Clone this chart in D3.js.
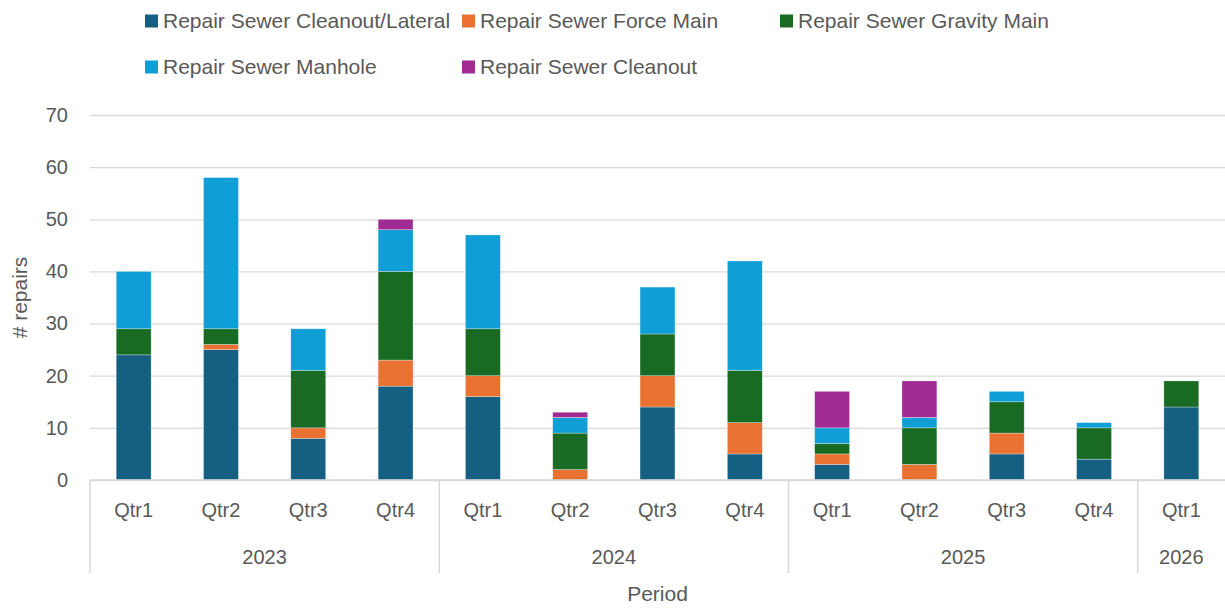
<!DOCTYPE html>
<html lang="en">
<head>
    <meta charset="UTF-8">
    <title>Sewer repairs by quarter</title>
    <style>
        body { margin: 0; background: #fff; }
        text { font-family: "Liberation Sans", Arial, sans-serif; fill: #595959; }
    </style>
</head>
<body>
    <div class="graph-container"></div>

    <script type="text/javascript" src="https://d3js.org/d3.v7.min.js"></script>
    <script type="text/javascript">
        // Chart data
        var quarters = ["Qtr1", "Qtr2", "Qtr3", "Qtr4", "Qtr1", "Qtr2", "Qtr3", "Qtr4", "Qtr1", "Qtr2", "Qtr3", "Qtr4", "Qtr1"];
        var years = ["2023", "2023", "2023", "2023", "2024", "2024", "2024", "2024", "2025", "2025", "2025", "2025", "2026"];

        var seriesNames = ["Repair Sewer Cleanout/Lateral", "Repair Sewer Force Main", "Repair Sewer Gravity Main", "Repair Sewer Manhole", "Repair Sewer Cleanout"];
        var lateral = [24, 25, 8, 18, 16, 0, 14, 5, 3, 0, 5, 4, 14];
        var forceMain = [0, 1, 2, 5, 4, 2, 6, 6, 2, 3, 4, 0, 0];
        var gravityMain = [5, 3, 11, 17, 9, 7, 8, 10, 2, 7, 6, 6, 5];
        var manhole = [11, 29, 8, 8, 18, 3, 9, 21, 3, 2, 2, 1, 0];
        var cleanout = [0, 0, 0, 2, 0, 1, 0, 0, 7, 7, 0, 0, 0];

        var yTicks = [0, 10, 20, 30, 40, 50, 60, 70];
        var colors = ["#156082", "#E97132", "#196B24", "#0F9ED5", "#A02B93"];

        var canvasWidth = 1225;
        var canvasHeight = 608;
        var margin = { top: 115, right: 0, bottom: 128, left: 90 };
        var graphWidth = canvasWidth - margin.left - margin.right;
        var graphHeight = canvasHeight - margin.top - margin.bottom;

        var seriesData = [lateral, forceMain, gravityMain, manhole, cleanout];
        var rows = quarters.map(function(q, i) {
            var row = { idx: i };
            seriesNames.forEach(function(name, s) { row[name] = seriesData[s][i]; });
            return row;
        });
        var stacked = d3.stack().keys(seriesNames)(rows);

        var x = d3.scaleBand()
            .domain(d3.range(quarters.length))
            .range([0, graphWidth])
            .paddingInner(0.6)
            .paddingOuter(0.3);

        var y = d3.scaleLinear()
            .domain([0, 70])
            .range([graphHeight, 0]);

        var color = d3.scaleOrdinal().domain(seriesNames).range(colors);

        var svg = d3.select(".graph-container")
            .append("svg")
            .attr("width", canvasWidth)
            .attr("height", canvasHeight);

        var g = svg.append("g")
            .attr("transform", "translate(" + margin.left + "," + margin.top + ")");

        // gridlines
        g.append("g")
            .attr("class", "grid")
            .call(d3.axisLeft(y).tickValues(yTicks).tickSize(-graphWidth).tickFormat(""))
            .call(function(sel) {
                sel.select(".domain").remove();
                sel.selectAll("line").attr("stroke", "#d9d9d9").attr("stroke-width", 1.3);
            });

        // y tick labels
        g.append("g")
            .call(d3.axisLeft(y).tickValues(yTicks).tickSize(0).tickPadding(22))
            .call(function(sel) {
                sel.select(".domain").remove();
                sel.selectAll("text").style("font-size", "20px").attr("fill", "#595959");
            });

        // bars
        g.append("g").selectAll("g")
            .data(stacked)
            .enter().append("g")
                .attr("fill", function(d) { return color(d.key); })
                .selectAll("rect")
                .data(function(d) { return d; })
                .enter().append("rect")
                    .attr("x", function(d) { return x(d.data.idx); })
                    .attr("y", function(d) { return y(d[1]); })
                    .attr("width", x.bandwidth())
                    .attr("height", function(d) { return y(d[0]) - y(d[1]); })
                    .attr("stroke", "rgba(255,255,255,0.5)")
                    .attr("stroke-width", 0.6);

        // category axis: quarter labels
        g.append("g")
            .attr("transform", "translate(0," + graphHeight + ")")
            .call(d3.axisBottom(x).tickSize(0).tickPadding(23).tickFormat(function(i) { return quarters[i]; }))
            .call(function(sel) {
                sel.select(".domain").remove();
                sel.selectAll("text").style("font-size", "20px").attr("fill", "#595959");
            });

        // year groups
        var yearNames = Array.from(new Set(years));
        var step = x.step();
        var groups = yearNames.map(function(yr) {
            var idx = d3.range(years.length).filter(function(i) { return years[i] === yr; });
            var x0 = x(idx[0]) - x.paddingOuter() * step;
            var x1 = x(idx[idx.length - 1]) + x.bandwidth() + x.paddingOuter() * step;
            return { year: yr, x0: x0, x1: Math.min(x1, graphWidth) };
        });

        var catAxis = g.append("g").attr("transform", "translate(0," + graphHeight + ")");
        catAxis.append("line")
            .attr("x1", 0).attr("x2", graphWidth)
            .attr("y1", 0).attr("y2", 0)
            .attr("stroke", "#d9d9d9").attr("stroke-width", 1.5);
        catAxis.selectAll(".sep")
            .data(groups)
            .enter().append("line")
                .attr("x1", function(d) { return d.x0; })
                .attr("x2", function(d) { return d.x0; })
                .attr("y1", 0).attr("y2", 93)
                .attr("stroke", "#d9d9d9").attr("stroke-width", 1.5);
        catAxis.selectAll(".year")
            .data(groups)
            .enter().append("text")
                .attr("x", function(d) { return (d.x0 + d.x1) / 2; })
                .attr("y", 84)
                .attr("text-anchor", "middle")
                .style("font-size", "20px")
                .text(function(d) { return d.year; });

        // axis titles
        svg.append("text")
            .attr("x", margin.left + graphWidth / 2)
            .attr("y", 601)
            .attr("text-anchor", "middle")
            .style("font-size", "21px")
            .text("Period");

        svg.append("text")
            .attr("transform", "translate(27," + (margin.top + graphHeight / 2) + ") rotate(-90)")
            .attr("text-anchor", "middle")
            .style("font-size", "21px")
            .text("# repairs");

        // legend
        var legendPos = [[145, 21], [462, 21], [780, 21], [145, 67], [462, 67]];
        var legend = svg.append("g").selectAll("g")
            .data(seriesNames)
            .enter().append("g")
                .attr("transform", function(d, i) { return "translate(" + legendPos[i][0] + "," + legendPos[i][1] + ")"; });
        legend.append("rect")
            .attr("x", 0).attr("y", -6.5)
            .attr("width", 13).attr("height", 13)
            .attr("fill", function(d) { return color(d); });
        legend.append("text")
            .attr("x", 18)
            .attr("dy", "0.35em")
            .style("font-size", "21px")
            .text(function(d) { return d; });
    </script>
</body>
</html>
